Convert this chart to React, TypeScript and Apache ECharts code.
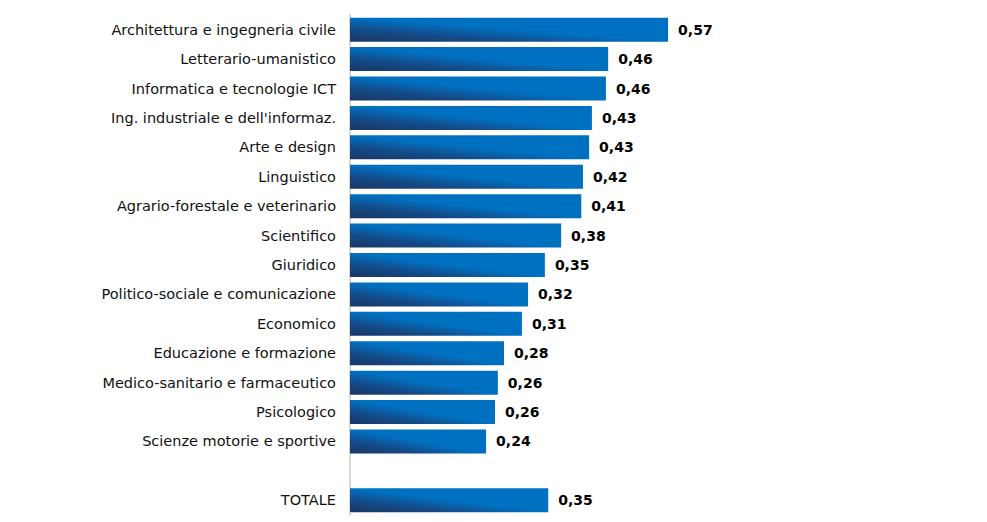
import React, { useEffect, useRef } from "react";
import * as echarts from "echarts";

const categories = [
  "Architettura e ingegneria civile",
  "Letterario-umanistico",
  "Informatica e tecnologie ICT",
  "Ing. industriale e dell'informaz.",
  "Arte e design",
  "Linguistico",
  "Agrario-forestale e veterinario",
  "Scientifico",
  "Giuridico",
  "Politico-sociale e comunicazione",
  "Economico",
  "Educazione e formazione",
  "Medico-sanitario e farmaceutico",
  "Psicologico",
  "Scienze motorie e sportive",
  "",
  "TOTALE",
];

const values: (number | null)[] = [
  0.568, 0.461, 0.457, 0.432, 0.427, 0.416, 0.413, 0.377, 0.348, 0.318,
  0.307, 0.275, 0.264, 0.259, 0.243, null, 0.354,
];

const FONT = "DejaVu Sans";

export default function App() {
  const ref = useRef<HTMLDivElement>(null);
  useEffect(() => {
    if (!ref.current) return;
    const chart = echarts.init(ref.current, null, { renderer: "svg" });
    const barColor = new echarts.graphic.LinearGradient(0, 1, 0.5, 0.5, [
      { offset: 0, color: "#1b3664" },
      { offset: 0.5, color: "#134a86" },
      { offset: 0.8, color: "#0a60a8" },
      { offset: 1, color: "#0070c0" },
    ]);
    chart.setOption({
      animation: false,
      grid: { left: 350, top: 15, width: 560, height: 500 },
      xAxis: {
        type: "value",
        min: 0,
        max: 1,
        show: false,
      },
      yAxis: {
        type: "category",
        inverse: true,
        data: categories,
        axisLine: { show: true, lineStyle: { color: "#d9d9d9", width: 2 } },
        axisTick: { show: false },
        axisLabel: {
          color: "#111",
          fontFamily: FONT,
          fontSize: 14.5,
          margin: 14,
        },
      },
      series: [
        {
          type: "bar",
          data: values,
          barWidth: 24,
          itemStyle: { color: barColor },
          label: {
            show: true,
            position: "right",
            distance: 10,
            color: "#000",
            fontFamily: FONT,
            fontWeight: "bold",
            fontSize: 14,
            formatter: (p: any) =>
              p.value == null ? "" : Number(p.value).toFixed(2).replace(".", ","),
          },
        },
      ],
    });
    return () => chart.dispose();
  }, []);
  return (
    <div
      ref={ref}
      style={{ position: "fixed", left: 0, top: 0, width: 987, height: 522, background: "#fff" }}
    />
  );
}
